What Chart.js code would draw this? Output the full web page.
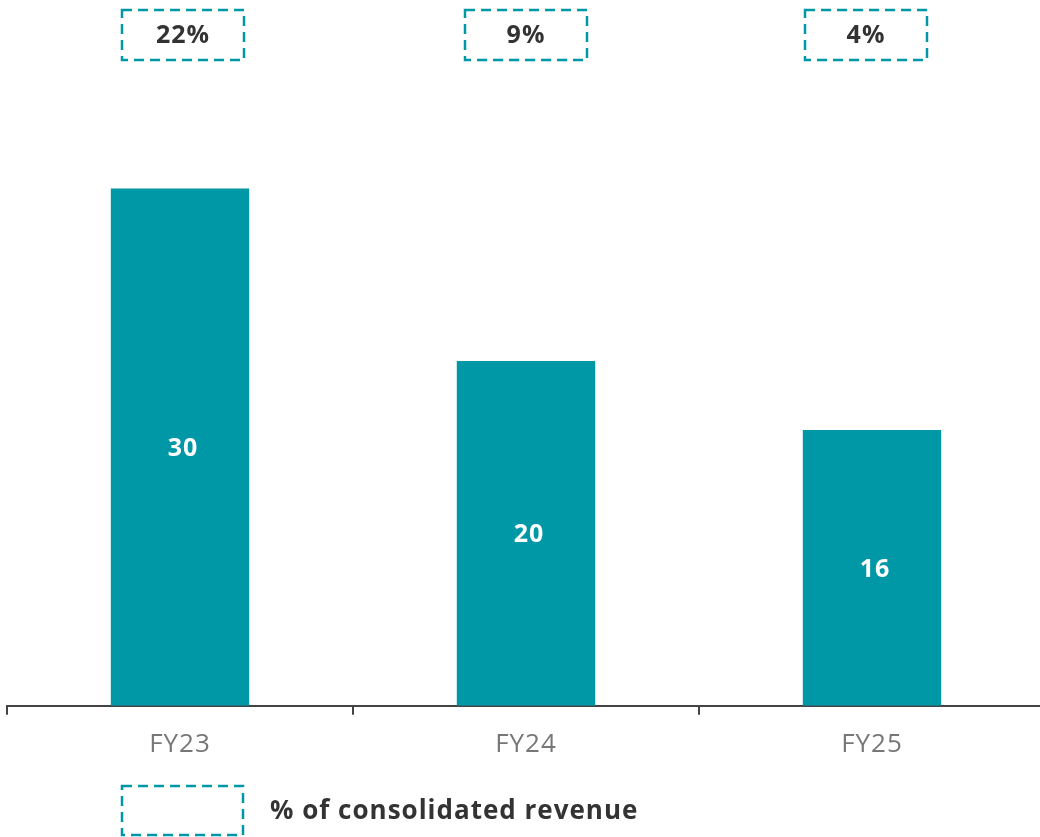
<!DOCTYPE html>
<html>
<head>
<meta charset="utf-8">
<script src="https://cdn.jsdelivr.net/npm/chart.js@4.4.1/dist/chart.umd.min.js"></script>
<style>
  html, body { margin: 0; padding: 0; background: #fff; overflow: hidden; }
  #wrap { width: 1050px; height: 837px; }
</style>
</head>
<body>
<div id="wrap"><canvas id="chart" width="1050" height="837"></canvas></div>
<script>
// chart data
const years = ['FY23', 'FY24', 'FY25'];
const values = [30, 20, 16];
const revenueShare = ['22%', '9%', '4%'];
const legendText = '% of consolidated revenue';

const teal = '#0097a7';
const dark = '#333333';
const fontFam = '"Open Sans", Lato, sans-serif';
const boxShift = [3, 0, -6]; // the boxes are not quite centred over the bars

// a bit of tracking so the text is closer to the wide original font
const spacing = {
    id: 'spacing',
    beforeDraw(chart) {
        chart.ctx.letterSpacing = '1px';
    }
};

// dashed boxes above the bars + the legend at the bottom
const boxesPlugin = {
    id: 'boxes',
    afterDraw(chart) {
        const ctx = chart.ctx;
        const x = chart.scales.x;
        ctx.save();
        ctx.strokeStyle = teal;
        ctx.lineWidth = 2.5;
        ctx.setLineDash([10, 6]);
        revenueShare.forEach((txt, i) => {
            const cx = x.getPixelForValue(i) + boxShift[i];
            ctx.strokeRect(cx - 61, 10, 122, 50);
        });
        ctx.strokeRect(122, 786, 121, 49);
        ctx.setLineDash([]);
        ctx.fillStyle = dark;
        ctx.textAlign = 'center';
        ctx.textBaseline = 'middle';
        ctx.font = 'bold 25px ' + fontFam;
        revenueShare.forEach((txt, i) => {
            const cx = x.getPixelForValue(i) + boxShift[i];
            ctx.fillText(txt, cx, 36);
        });
        ctx.textAlign = 'left';
        ctx.font = 'bold 26px ' + fontFam;
        ctx.fillText(legendText, 270, 812);
        ctx.restore();
    }
};

// white values in the middle of the bars
const valueLabels = {
    id: 'valueLabels',
    afterDatasetsDraw(chart) {
        const ctx = chart.ctx;
        const meta = chart.getDatasetMeta(0);
        ctx.save();
        ctx.fillStyle = '#fff';
        ctx.font = 'bold 25px ' + fontFam;
        ctx.textAlign = 'center';
        ctx.textBaseline = 'middle';
        meta.data.forEach((bar, i) => {
            ctx.fillText(values[i], bar.x + 3, (bar.y + bar.base) / 2 + 2);
        });
        ctx.restore();
    }
};

new Chart(document.getElementById('chart'), {
    type: 'bar',
    data: {
        labels: years,
        datasets: [{
            data: values,
            backgroundColor: teal,
            barPercentage: 0.4,
            categoryPercentage: 1.0
        }]
    },
    options: {
        responsive: false,
        animation: false,
        layout: { padding: { top: 16, left: 7, right: 5, bottom: 63 } },
        plugins: { legend: { display: false }, tooltip: { enabled: false } },
        scales: {
            x: {
                grid: {
                    offset: true,
                    drawOnChartArea: false,
                    drawTicks: true,
                    tickLength: 9,
                    color: '#444',
                    lineWidth: 2
                },
                border: { color: '#444', width: 2 },
                ticks: {
                    color: '#777',
                    padding: 14,
                    font: { family: fontFam, size: 26 }
                }
            },
            y: {
                display: false,
                min: 0,
                max: 40
            }
        }
    },
    plugins: [spacing, valueLabels, boxesPlugin]
});
</script>
</body>
</html>
